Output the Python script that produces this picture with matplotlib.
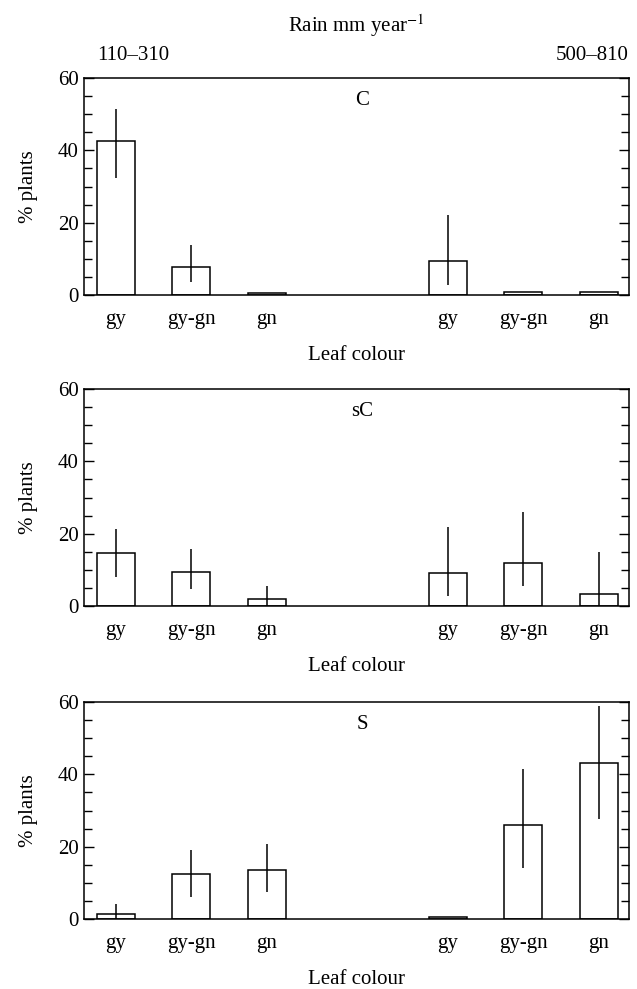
import matplotlib
matplotlib.use('Agg')
import matplotlib.pyplot as plt
from matplotlib.ticker import MultipleLocator

plt.rcParams['font.family'] = ['Liberation Serif', 'DejaVu Serif']
plt.rcParams['mathtext.fontset'] = 'stix'

colours = ['gy', 'gy-gn', 'gn', 'gy', 'gy-gn', 'gn']
rain_low = '110–310'
rain_high = '500–810'
panels = ['C', 'sC', 'S']

# mean % plants and the ends of each error bar
c_mean = [42.6, 7.8, 0.5, 9.4, 0.9, 0.7]
c_lo = [32.3, 3.7, 0.5, 2.7, 0.9, 0.7]
c_hi = [51.5, 13.9, 0.5, 22.0, 0.9, 0.7]

sc_mean = [14.6, 9.4, 1.9, 9.1, 11.8, 3.2]
sc_lo = [8.0, 4.8, 0.0, 2.8, 5.4, 0.0]
sc_hi = [21.3, 15.8, 5.5, 21.8, 26.1, 14.9]

s_mean = [1.4, 12.5, 13.6, 0.5, 26.1, 43.0]
s_lo = [0.0, 6.2, 7.6, 0.5, 14.2, 27.7]
s_hi = [4.1, 19.2, 20.6, 0.5, 41.5, 58.8]

data = [(c_mean, c_lo, c_hi), (sc_mean, sc_lo, sc_hi), (s_mean, s_lo, s_hi)]
xpos = [0, 1, 2, 4.4, 5.4, 6.4]

fig = plt.figure(figsize=(6.37, 9.89), dpi=100)
tops = [78, 389, 702]
for i in range(3):
    top = tops[i]
    ax = fig.add_axes([84/637, 1 - (top + 217)/989, 545/637, 217/989])
    mean, lo, hi = data[i]
    ax.bar(xpos, mean, width=0.5, color='white', edgecolor='black', linewidth=1.1)
    yerr = [[m - l for m, l in zip(mean, lo)], [h - m for m, h in zip(mean, hi)]]
    ax.errorbar(xpos, mean, yerr=yerr, fmt='none', ecolor='black', elinewidth=1.1, capsize=0)
    ax.set_xlim(-0.42, 6.8)
    ax.set_ylim(0, 60)
    ax.yaxis.set_major_locator(MultipleLocator(20))
    ax.yaxis.set_minor_locator(MultipleLocator(5))
    ax.set_xticks(xpos)
    ax.set_xticklabels(colours, fontsize=15)
    ax.tick_params(axis='x', length=0, pad=11)
    ax.tick_params(axis='y', which='both', direction='in', left=True, right=True, labelsize=15, pad=4)
    ax.tick_params(axis='y', which='major', length=7, width=1)
    ax.tick_params(axis='y', which='minor', length=6, width=1)
    for sp in ax.spines.values():
        sp.set_linewidth(1.1)
    ax.set_ylabel('% plants', fontsize=15, labelpad=14)
    ax.set_xlabel('Leaf colour', fontsize=15, labelpad=12)
    ax.text(0.51, 0.895, panels[i], transform=ax.transAxes, ha='center', va='center', fontsize=15)
    if i == 0:
        ax.text(0.09, 1.105, rain_low, transform=ax.transAxes, ha='center', va='center', fontsize=15)
        ax.text(1.0, 1.105, rain_high, transform=ax.transAxes, ha='right', va='center', fontsize=15)
        ax.text(0.5, 1.24, 'Rain mm year$^{-1}$', transform=ax.transAxes, ha='center', va='center', fontsize=15)

fig.savefig('out.png', dpi=100)
